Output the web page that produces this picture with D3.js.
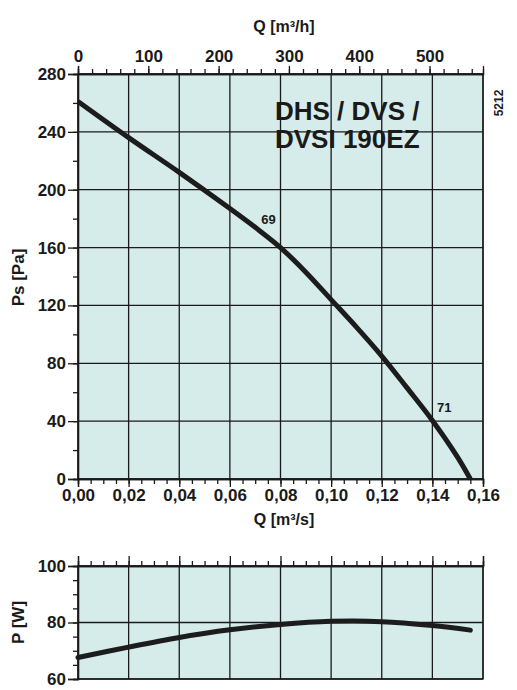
<!DOCTYPE html>
<html>
<head>
<meta charset="utf-8">
<script src="https://cdn.jsdelivr.net/npm/d3@7"></script>
<style>
  body { margin: 0; background: #fff; }
  text { font-family: "Liberation Sans", Arial, sans-serif; font-weight: bold; fill: #1a1a1a; }
  .axis path, .axis line { stroke: #1a1a1a; stroke-width: 1.3; }
  .axis text { font-size: 17px; fill: #1a1a1a; }
</style>
</head>
<body>
<svg id="chart"></svg>
<script>
// flow values in m3/s
const flowQ = [0, 0.02, 0.04, 0.06, 0.07, 0.08, 0.09, 0.10, 0.11, 0.12, 0.13, 0.14, 0.15, 0.155];
const pressurePs = [261, 236, 212, 187, 174, 160, 143, 124, 105, 85, 63, 40.5, 15, 0];

const powerQ = [0, 0.02, 0.04, 0.06, 0.08, 0.10, 0.12, 0.14, 0.155];
const powerP = [67.6, 71.3, 74.7, 77.4, 79.3, 80.4, 80.3, 78.9, 77.3];

const qTicks = [0, 0.02, 0.04, 0.06, 0.08, 0.10, 0.12, 0.14, 0.16];
const qhTicks = [0, 100, 200, 300, 400, 500];
const psTicks = [0, 40, 80, 120, 160, 200, 240, 280];
const pTicks = [60, 80, 100];

const curveLabels = [
    {q: 0.0753, ps: 176.5, text: "69"},
    {q: 0.1447, ps: 46, text: "71"}
];
const titleLines = ["DHS / DVS /", "DVSI 190EZ"];

const width = 517, height = 690;
const left = 78, right = 483;
const main = {top: 74, bottom: 479};
const pw = {top: 566, bottom: 679};
const bg = "#d5ecea";

const svg = d3.select("#chart")
    .attr("width", width)
    .attr("height", height);

const comma = d3.formatLocale({decimal: ",", thousands: ".", grouping: [3], currency: ["", ""]});

let x = d3.scaleLinear().domain([0, 0.16]).range([left, right]);
let xh = d3.scaleLinear().domain([0, 0.16 * 3600]).range([left, right]);
let y = d3.scaleLinear().domain([0, 280]).range([main.bottom, main.top]);
let yp = d3.scaleLinear().domain([60, 100]).range([pw.bottom, pw.top]);

// minor tick positions
let qMinor = d3.range(0, 0.1601, 0.005);
let qhMinor = d3.range(0, 570, 20);

// background, grid and frame of one panel
function panel(yScale, yVals, top, bottom) {
    svg.append("rect")
        .attr("x", left).attr("y", top)
        .attr("width", right - left).attr("height", bottom - top)
        .attr("fill", bg);
    svg.append("g").selectAll("line").data(qTicks).join("line")
        .attr("x1", d => x(d)).attr("x2", d => x(d))
        .attr("y1", top).attr("y2", bottom)
        .attr("stroke", "#1a1a1a").attr("stroke-width", 1.3);
    svg.append("g").selectAll("line").data(yVals).join("line")
        .attr("x1", left).attr("x2", right)
        .attr("y1", d => yScale(d)).attr("y2", d => yScale(d))
        .attr("stroke", "#1a1a1a").attr("stroke-width", 1.3);
    svg.append("rect")
        .attr("x", left).attr("y", top)
        .attr("width", right - left).attr("height", bottom - top)
        .attr("fill", "none").attr("stroke", "#1a1a1a").attr("stroke-width", 1.3);
}

// ---------- main chart ----------
panel(y, psTicks, main.top, main.bottom);

// top axis m3/h
svg.append("g").attr("class", "axis")
    .attr("transform", `translate(0,${main.top})`)
    .call(d3.axisTop(xh).tickValues(qhMinor).tickSize(5).tickFormat(""));
svg.append("g").attr("class", "axis")
    .attr("transform", `translate(0,${main.top})`)
    .call(d3.axisTop(xh).tickValues(qhTicks).tickSize(8).tickPadding(4));

// bottom axis m3/s
svg.append("g").attr("class", "axis")
    .attr("transform", `translate(0,${main.bottom})`)
    .call(d3.axisBottom(x).tickValues(qMinor).tickSize(5).tickFormat(""));
svg.append("g").attr("class", "axis")
    .attr("transform", `translate(0,${main.bottom})`)
    .call(d3.axisBottom(x).tickValues(qTicks).tickSize(8).tickPadding(2).tickFormat(comma.format(".2f")));

// left axis Pa
svg.append("g").attr("class", "axis")
    .attr("transform", `translate(${left},0)`)
    .call(d3.axisLeft(y).tickValues(d3.range(0, 281, 20)).tickSize(5).tickFormat(""));
svg.append("g").attr("class", "axis")
    .attr("transform", `translate(${left},0)`)
    .call(d3.axisLeft(y).tickValues(psTicks).tickSize(10).tickPadding(2));

svg.append("path")
    .datum(flowQ.map((q, i) => ({q: q, v: pressurePs[i]})))
    .attr("fill", "none")
    .attr("stroke", "#1c1c1c")
    .attr("stroke-width", 5)
    .attr("d", d3.line().x(d => x(d.q)).y(d => y(d.v)).curve(d3.curveCatmullRom.alpha(0.5)));

svg.append("g").selectAll("text").data(curveLabels).join("text")
    .attr("x", d => x(d.q)).attr("y", d => y(d.ps))
    .attr("text-anchor", "middle")
    .attr("font-size", "13px")
    .text(d => d.text);

svg.append("g").selectAll("text").data(titleLines).join("text")
    .attr("x", 275).attr("y", (d, i) => 120 + i * 28)
    .attr("font-size", "26px")
    .text(d => d);

svg.append("text")
    .attr("transform", "translate(503,103) rotate(-90)")
    .attr("text-anchor", "middle")
    .attr("font-size", "12px")
    .text("5212");

svg.append("text")
    .attr("x", 284).attr("y", 32)
    .attr("text-anchor", "middle")
    .attr("font-size", "16px")
    .text("Q [m³/h]");
svg.append("text")
    .attr("x", 284).attr("y", 525)
    .attr("text-anchor", "middle")
    .attr("font-size", "16px")
    .text("Q [m³/s]");
svg.append("text")
    .attr("transform", `translate(24,${(main.top + main.bottom) / 2 + 1}) rotate(-90)`)
    .attr("text-anchor", "middle")
    .attr("font-size", "17px")
    .text("Ps [Pa]");

// ---------- power chart ----------
panel(yp, pTicks, pw.top, pw.bottom);

svg.append("g").attr("class", "axis")
    .attr("transform", `translate(0,${pw.top})`)
    .call(d3.axisTop(x).tickValues(qMinor).tickSize(5).tickFormat(""));
svg.append("g").attr("class", "axis")
    .attr("transform", `translate(0,${pw.top})`)
    .call(d3.axisTop(x).tickValues(qTicks).tickSize(10).tickFormat(""));

svg.append("g").attr("class", "axis")
    .attr("transform", `translate(${left},0)`)
    .call(d3.axisLeft(yp).tickValues(d3.range(60, 101, 5)).tickSize(5).tickFormat(""));
svg.append("g").attr("class", "axis")
    .attr("transform", `translate(${left},0)`)
    .call(d3.axisLeft(yp).tickValues(pTicks).tickSize(10).tickPadding(2));

svg.append("path")
    .datum(powerQ.map((q, i) => ({q: q, v: powerP[i]})))
    .attr("fill", "none")
    .attr("stroke", "#1c1c1c")
    .attr("stroke-width", 5)
    .attr("stroke-linecap", "round")
    .attr("d", d3.line().x(d => x(d.q)).y(d => yp(d.v)).curve(d3.curveCatmullRom.alpha(0.5)));

svg.append("text")
    .attr("transform", `translate(24,${(pw.top + pw.bottom) / 2}) rotate(-90)`)
    .attr("text-anchor", "middle")
    .attr("font-size", "17px")
    .text("P [W]");
</script>
</body>
</html>
